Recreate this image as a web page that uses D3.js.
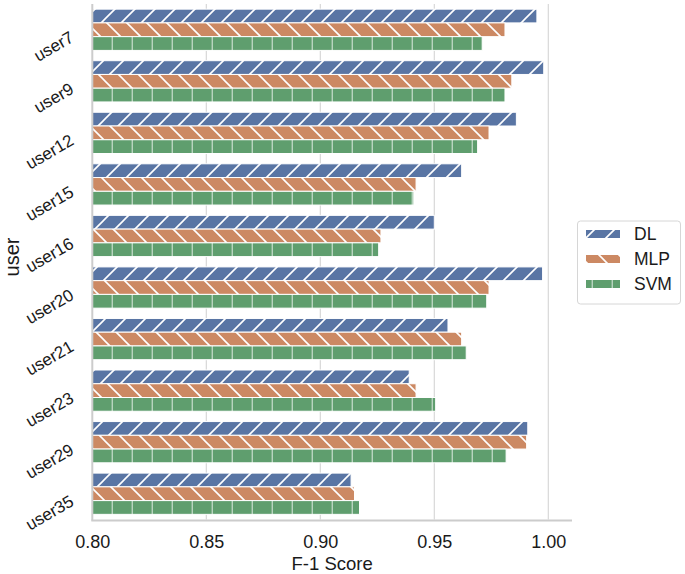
<!DOCTYPE html>
<html><head><meta charset="utf-8">
<script src="https://cdn.jsdelivr.net/npm/d3@7"></script>
<style>body{margin:0;background:#fff}svg{display:block}text{font-family:"Liberation Sans",Arial,sans-serif;fill:#1a1a1a}</style>
</head><body>
<script>
const users = ["user7","user9","user12","user15","user16","user20","user21","user23","user29","user35"];
const models = ["DL","MLP","SVM"];
const dlValues  = [0.995,0.998,0.986,0.962,0.950,0.9975,0.956,0.939,0.991,0.9135];
const mlpValues = [0.981,0.984,0.974,0.942,0.9266,0.974,0.962,0.942,0.9905,0.915];
const svmValues = [0.971,0.981,0.969,0.941,0.9256,0.973,0.964,0.9506,0.9815,0.9172];
const xTicks = [0.80,0.85,0.90,0.95,1.00];
const colors = ["#5975a4","#cc8963","#5f9e6e"];
const series = [dlValues, mlpValues, svmValues];

(function(){
const W=685,H=574;
const svg=d3.select("body").append("svg").attr("width",W).attr("height",H);
const defs=svg.append("defs");
const hatchIds=["h-dl","h-mlp","h-svm"];
const p=defs.append("pattern").attr("id","h-dl").attr("patternUnits","userSpaceOnUse").attr("width",20).attr("height",20).attr("x",4).attr("y",0);
p.append("rect").attr("width",20).attr("height",20).attr("fill",colors[0]);
p.append("path").attr("d","M-5,25 L25,-5 M-25,25 L5,-5 M15,25 L45,-5").attr("stroke","#fff").attr("stroke-width",1.6);
const q=defs.append("pattern").attr("id","h-mlp").attr("patternUnits","userSpaceOnUse").attr("width",20).attr("height",20).attr("x",4).attr("y",0);
q.append("rect").attr("width",20).attr("height",20).attr("fill",colors[1]);
q.append("path").attr("d","M-5,-5 L25,25 M-25,-5 L5,25 M15,-5 L45,25").attr("stroke","#fff").attr("stroke-width",1.6);
const r=defs.append("pattern").attr("id","h-svm").attr("patternUnits","userSpaceOnUse").attr("width",20).attr("height",20).attr("x",11.7).attr("y",0);
r.append("rect").attr("width",20).attr("height",20).attr("fill",colors[2]);
r.append("path").attr("d","M0,-1 L0,21").attr("stroke","#fff").attr("stroke-width",1.6);

const pl=92.3,pr=572,pt=4,pb=519.5;
const x=d3.scaleLinear().domain([0.8,1.0104]).range([pl,pr]);
const y=d3.scaleBand().domain(users).range([pt,pb]).paddingInner(0.2).paddingOuter(0.1);
const yi=d3.scaleBand().domain(models).range([0,y.bandwidth()]);

svg.append("g").selectAll("line").data(xTicks.slice(1)).join("line")
  .attr("x1",d=>x(d)).attr("x2",d=>x(d)).attr("y1",pt).attr("y2",pb)
  .attr("stroke","#d4d4d4").attr("stroke-width",1.1);

series.forEach((vals,si)=>{
  svg.append("g").selectAll("rect").data(users).join("rect")
    .attr("x",x(0.8)).attr("y",(u)=>y(u)+yi(models[si]))
    .attr("width",(u,i)=>x(vals[i])-x(0.8)).attr("height",yi.bandwidth())
    .attr("fill",`url(#${hatchIds[si]})`).attr("stroke","#fff").attr("stroke-width",1);
});

svg.append("line").attr("x1",pl).attr("x2",pl).attr("y1",pt).attr("y2",pb+1).attr("stroke","#cccccc").attr("stroke-width",2);
svg.append("line").attr("x1",pl-1).attr("x2",pr).attr("y1",pb+1).attr("y2",pb+1).attr("stroke","#cccccc").attr("stroke-width",2);

const xa=svg.append("g").attr("transform",`translate(0,${pb})`)
  .call(d3.axisBottom(x).tickValues(xTicks).tickFormat(d3.format(".2f")).tickSize(0).tickPadding(16));
xa.select(".domain").remove();
xa.selectAll("text").attr("font-size",18).style("font-family","Liberation Sans, Arial, sans-serif").attr("fill","#1a1a1a");
svg.append("text").attr("x",(pl+pr)/2).attr("y",570).attr("text-anchor","middle").attr("font-size",18.5).text("F-1 Score");

svg.append("g").selectAll("text").data(users).join("text")
  .attr("transform",u=>`translate(75,${y(u)+y.bandwidth()/2+11}) rotate(-30)`)
  .attr("text-anchor","end").attr("font-size",17).text(d=>d);
svg.append("text").attr("transform",`translate(19,257) rotate(-90)`).attr("text-anchor","middle").attr("font-size",20).text("user");

const lg=svg.append("g");
lg.append("rect").attr("x",577.5).attr("y",221).attr("width",103).attr("height",83).attr("rx",3)
  .attr("fill","#fff").attr("stroke","#d6d6d6").attr("stroke-width",1);
models.forEach((m,i)=>{
  const cy=234+i*25;
  lg.append("rect").attr("x",586).attr("y",cy-4).attr("width",34).attr("height",8).attr("fill",`url(#${hatchIds[i]})`);
  lg.append("text").attr("x",634).attr("y",cy+6).attr("font-size",17.5).text(m);
});
})();
</script>
</body></html>
